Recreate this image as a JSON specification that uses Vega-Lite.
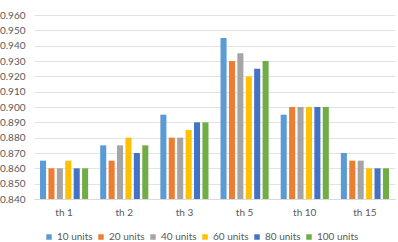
{
  "$schema": "https://vega.github.io/schema/vega-lite/v6.json",
  "width": 361,
  "height": 184,
  "autosize": "none",
  "padding": {"left": 34, "top": 15, "right": 3, "bottom": 43},
  "background": "white",
  "config": {
    "view": {"stroke": null},
    "font": "Lato"
  },
  "data": {
    "values": [
      {"th": "th 1", "series": "10 units", "value": 0.865},
      {"th": "th 1", "series": "20 units", "value": 0.860},
      {"th": "th 1", "series": "40 units", "value": 0.860},
      {"th": "th 1", "series": "60 units", "value": 0.865},
      {"th": "th 1", "series": "80 units", "value": 0.860},
      {"th": "th 1", "series": "100 units", "value": 0.860},
      {"th": "th 2", "series": "10 units", "value": 0.875},
      {"th": "th 2", "series": "20 units", "value": 0.865},
      {"th": "th 2", "series": "40 units", "value": 0.875},
      {"th": "th 2", "series": "60 units", "value": 0.880},
      {"th": "th 2", "series": "80 units", "value": 0.870},
      {"th": "th 2", "series": "100 units", "value": 0.875},
      {"th": "th 3", "series": "10 units", "value": 0.895},
      {"th": "th 3", "series": "20 units", "value": 0.880},
      {"th": "th 3", "series": "40 units", "value": 0.880},
      {"th": "th 3", "series": "60 units", "value": 0.885},
      {"th": "th 3", "series": "80 units", "value": 0.890},
      {"th": "th 3", "series": "100 units", "value": 0.890},
      {"th": "th 5", "series": "10 units", "value": 0.945},
      {"th": "th 5", "series": "20 units", "value": 0.930},
      {"th": "th 5", "series": "40 units", "value": 0.935},
      {"th": "th 5", "series": "60 units", "value": 0.920},
      {"th": "th 5", "series": "80 units", "value": 0.925},
      {"th": "th 5", "series": "100 units", "value": 0.930},
      {"th": "th 10", "series": "10 units", "value": 0.895},
      {"th": "th 10", "series": "20 units", "value": 0.900},
      {"th": "th 10", "series": "40 units", "value": 0.900},
      {"th": "th 10", "series": "60 units", "value": 0.900},
      {"th": "th 10", "series": "80 units", "value": 0.900},
      {"th": "th 10", "series": "100 units", "value": 0.900},
      {"th": "th 15", "series": "10 units", "value": 0.870},
      {"th": "th 15", "series": "20 units", "value": 0.865},
      {"th": "th 15", "series": "40 units", "value": 0.865},
      {"th": "th 15", "series": "60 units", "value": 0.860},
      {"th": "th 15", "series": "80 units", "value": 0.860},
      {"th": "th 15", "series": "100 units", "value": 0.860}
    ]
  },
  "mark": {"type": "bar"},
  "encoding": {
    "x": {
      "field": "th",
      "type": "nominal",
      "sort": ["th 1", "th 2", "th 3", "th 5", "th 10", "th 15"],
      "scale": {"paddingInner": 0.2, "paddingOuter": 0.1},
      "axis": {
        "title": null,
        "labelAngle": 0,
        "ticks": false,
        "domainColor": "#d9d9d9",
        "labelColor": "#595959",
        "labelFontSize": 10,
        "labelPadding": 8
      }
    },
    "xOffset": {
      "field": "series",
      "type": "nominal",
      "sort": ["10 units", "20 units", "40 units", "60 units", "80 units", "100 units"],
      "scale": {"paddingInner": 0.28}
    },
    "y": {
      "field": "value",
      "type": "quantitative",
      "scale": {"domain": [0.84, 0.96], "zero": false},
      "axis": {
        "title": null,
        "values": [0.84, 0.85, 0.86, 0.87, 0.88, 0.89, 0.9, 0.91, 0.92, 0.93, 0.94, 0.95, 0.96],
        "format": ".3f",
        "domain": false,
        "ticks": false,
        "gridColor": "#e3e3e3",
        "labelColor": "#595959",
        "labelFontSize": 10,
        "labelPadding": 9
      }
    },
    "y2": {"datum": 0.84},
    "color": {
      "field": "series",
      "type": "nominal",
      "sort": ["10 units", "20 units", "40 units", "60 units", "80 units", "100 units"],
      "scale": {
        "domain": ["10 units", "20 units", "40 units", "60 units", "80 units", "100 units"],
        "range": ["#5B9BD5", "#ED7D31", "#A5A5A5", "#FFC000", "#4472C4", "#70AD47"]
      },
      "legend": {
        "title": null,
        "orient": "none",
        "direction": "horizontal",
        "legendX": 10,
        "legendY": 217,
        "symbolType": "square",
        "symbolSize": 30,
        "symbolStrokeWidth": 0,
        "labelFontSize": 10,
        "labelColor": "#595959",
        "labelOffset": 3,
        "columnPadding": 3
      }
    }
  }
}
